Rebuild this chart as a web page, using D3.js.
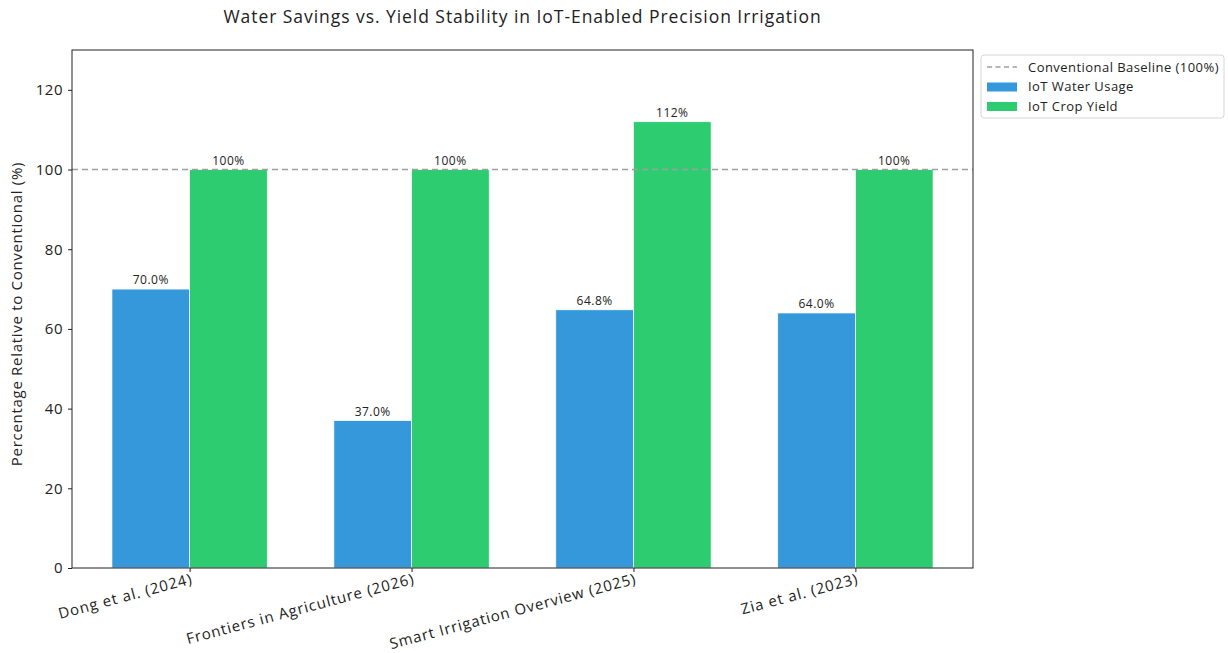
<!DOCTYPE html>
<html>
<head>
<meta charset="utf-8">
<script src="https://cdn.jsdelivr.net/npm/d3@7"></script>
<style>
  body { margin: 0; background: #fff; }
  svg text { font-family: "Open Sans", sans-serif; fill: #222; }
</style>
</head>
<body>
<div id="chart"></div>
<script>
// Chart data
const studies = ['Dong et al. (2024)', 'Frontiers in Agriculture (2026)', 'Smart Irrigation Overview (2025)', 'Zia et al. (2023)'];
const waterUsage = [70.0, 37.0, 64.8, 64.0];
const cropYield = [100, 100, 112, 100];
const yTicks = [0, 20, 40, 60, 80, 100, 120];
const baseline = 100;

// Dimensions
let width = 1228, height = 653;
let margin = { top: 50, right: 255, bottom: 85, left: 72 };
let plotW = width - margin.left - margin.right;
let plotH = height - margin.top - margin.bottom;

let svg = d3.select('#chart').append('svg')
    .attr('width', width)
    .attr('height', height);

let g = svg.append('g')
    .attr('transform', 'translate(' + margin.left + ',' + margin.top + ')');

// Scales
let xScale = d3.scaleLinear().domain([-0.53, studies.length - 1 + 0.53]).range([0, plotW]);
let yScale = d3.scaleLinear().domain([0, 130]).range([plotH, 0]);
let barW = xScale(0.35) - xScale(0);

// Bars - water usage
g.selectAll('.water')
    .data(waterUsage)
    .enter().append('rect')
    .attr('class', 'water')
    .attr('x', (d, i) => xScale(i - 0.35))
    .attr('y', d => yScale(d))
    .attr('width', barW)
    .attr('height', d => plotH - yScale(d))
    .style('fill', '#3498db')
    .style('stroke', '#fff')
    .style('stroke-width', 0.7);

// Bars - crop yield
g.selectAll('.yield')
    .data(cropYield)
    .enter().append('rect')
    .attr('class', 'yield')
    .attr('x', (d, i) => xScale(i))
    .attr('y', d => yScale(d))
    .attr('width', barW)
    .attr('height', d => plotH - yScale(d))
    .style('fill', '#2ecc71')
    .style('stroke', '#fff')
    .style('stroke-width', 0.7);

// Baseline
g.append('line')
    .attr('x1', 0).attr('x2', plotW)
    .attr('y1', yScale(baseline)).attr('y2', yScale(baseline))
    .style('stroke', '#9e9e9e')
    .style('stroke-width', 1.5)
    .style('stroke-dasharray', '6,4');

// Value labels
g.selectAll('.wlabel')
    .data(waterUsage)
    .enter().append('text')
    .attr('x', (d, i) => xScale(i - 0.175))
    .attr('y', d => yScale(d) - 5)
    .attr('text-anchor', 'middle')
    .style('font-size', '12px')
    .style('letter-spacing', '0.5px')
    .text(d => d.toFixed(1) + '%');

g.selectAll('.ylabel')
    .data(cropYield)
    .enter().append('text')
    .attr('x', (d, i) => xScale(i + 0.175))
    .attr('y', d => yScale(d) - 5)
    .attr('text-anchor', 'middle')
    .style('font-size', '12px')
    .style('letter-spacing', '0.5px')
    .text(d => d.toFixed(0) + '%');

// Y axis
let yNode = g.append('g')
    .call(d3.axisLeft(yScale).tickValues(yTicks).tickSize(4).tickPadding(5));
yNode.select('.domain').remove();
yNode.selectAll('text').style('font-size', '15px').style('letter-spacing', '0.5px');
yNode.selectAll('line').style('stroke', '#222');

// X axis
let xNode = g.append('g')
    .attr('transform', 'translate(0,' + plotH + ')')
    .call(d3.axisBottom(xScale).tickValues(d3.range(studies.length)).tickFormat(i => studies[i]).tickSize(4));
xNode.select('.domain').remove();
xNode.selectAll('line').style('stroke', '#222');
xNode.selectAll('text')
    .style('font-size', '15px')
    .style('letter-spacing', '0.9px')
    .attr('text-anchor', 'end')
    .attr('dy', '0.85em')
    .attr('transform', 'translate(0,3) rotate(-15)');
xNode.selectAll('text').attr('y', 0).attr('x', 0);

// Frame
g.append('rect')
    .attr('width', plotW).attr('height', plotH)
    .style('fill', 'none')
    .style('stroke', '#222')
    .style('stroke-width', 1);

// Y label
svg.append('text')
    .attr('transform', 'translate(22,' + (margin.top + plotH / 2 + 5) + ') rotate(-90)')
    .attr('text-anchor', 'middle')
    .style('font-size', '15px')
    .style('letter-spacing', '0.7px')
    .text('Percentage Relative to Conventional (%)');

// Title
svg.append('text')
    .attr('x', margin.left + plotW / 2)
    .attr('y', 23)
    .attr('text-anchor', 'middle')
    .style('font-size', '17.5px')
    .style('letter-spacing', '0.95px')
    .text('Water Savings vs. Yield Stability in IoT-Enabled Precision Irrigation');

// Legend
let legend = svg.append('g').attr('transform', 'translate(981,55)');
legend.append('rect')
    .attr('width', 243).attr('height', 63)
    .attr('rx', 3)
    .style('fill', '#fff')
    .style('stroke', '#d6d6d6');
let items = [
    { label: 'Conventional Baseline (100%)', type: 'line' },
    { label: 'IoT Water Usage', color: '#3498db' },
    { label: 'IoT Crop Yield', color: '#2ecc71' }
];
items.forEach(function (item, i) {
    let y = 12 + i * 19.5;
    if (item.type === 'line') {
        legend.append('line')
            .attr('x1', 6).attr('x2', 36)
            .attr('y1', y).attr('y2', y)
            .style('stroke', '#9e9e9e')
            .style('stroke-width', 1.5)
            .style('stroke-dasharray', '5,3.5');
    } else {
        legend.append('rect')
            .attr('x', 6).attr('y', y - 4)
            .attr('width', 30).attr('height', 9)
            .style('fill', item.color);
    }
    legend.append('text')
        .attr('x', 47).attr('y', y + 4.5)
        .style('font-size', '13px')
        .style('letter-spacing', '0.45px')
        .text(item.label);
});
</script>
</body>
</html>
